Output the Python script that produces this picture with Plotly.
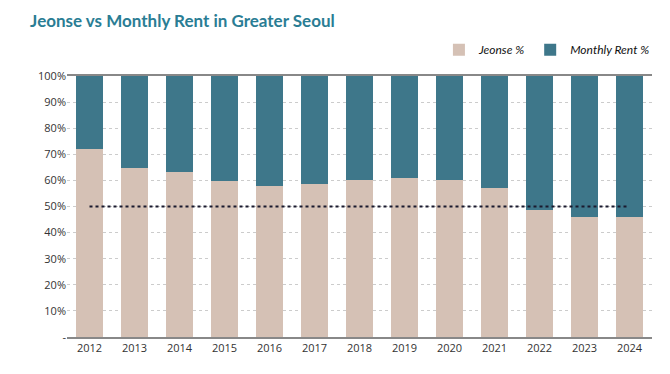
import plotly.graph_objects as go

years = ["2012", "2013", "2014", "2015", "2016", "2017", "2018",
         "2019", "2020", "2021", "2022", "2023", "2024"]
jeonse = [72.0, 64.8, 63.2, 59.8, 58.0, 58.6, 60.2, 60.8, 60.2, 57.0, 48.7, 45.9, 45.9]
monthly = [28.0, 35.2, 36.8, 40.2, 42.0, 41.4, 39.8, 39.2, 39.8, 43.0, 51.3, 54.1, 54.1]
reference_line = [50] * len(years)
y_ticks = [0, 10, 20, 30, 40, 50, 60, 70, 80, 90, 100]
y_labels = ["-", "10%", "20%", "30%", "40%", "50%", "60%", "70%", "80%", "90%", "100%"]

fig = go.Figure()
fig.add_trace(go.Bar(x=years, y=jeonse, name="Jeonse %",
                     marker=dict(color="#d5c1b5", line=dict(width=0))))
fig.add_trace(go.Bar(x=years, y=monthly, name="Monthly Rent %",
                     marker=dict(color="#3e778a", line=dict(width=0))))
fig.add_trace(go.Scatter(x=years, y=reference_line, mode="lines",
                         line=dict(color="#1a1a2e", width=2, dash="dot"),
                         showlegend=False, hoverinfo="skip"))

fig.update_layout(
    width=670, height=374,
    barmode="stack", bargap=0.42,
    paper_bgcolor="white", plot_bgcolor="white",
    margin=dict(l=59, r=26, t=68, b=45, autoexpand=False),
    title=dict(text="Jeonse vs Monthly Rent in Greater Seoul",
               x=0.033, xanchor="left", y=0.966, yanchor="middle",
               font=dict(family="Lato", size=17, color="#2a7d94", weight="bold")),
    legend=dict(orientation="h", x=1.005, xanchor="right", y=1.045, yanchor="bottom",
                font=dict(family="Lato", size=12, color="#111", style="italic"),
                traceorder="normal", itemwidth=30),
    font=dict(family="Open Sans", size=11, color="#333"),
    xaxis=dict(showline=True, linecolor="#888", linewidth=1.5, mirror=True,
               ticks="", tickfont=dict(size=11, color="#333"), automargin=False),
    yaxis=dict(range=[0, 100], tickvals=y_ticks, ticktext=y_labels,
               showgrid=True, gridcolor="#cccccc", griddash="dot", gridwidth=1,
               zeroline=False, tickfont=dict(size=11, color="#333"), ticks="",
               automargin=False),
)

fig.write_html("out.html")
